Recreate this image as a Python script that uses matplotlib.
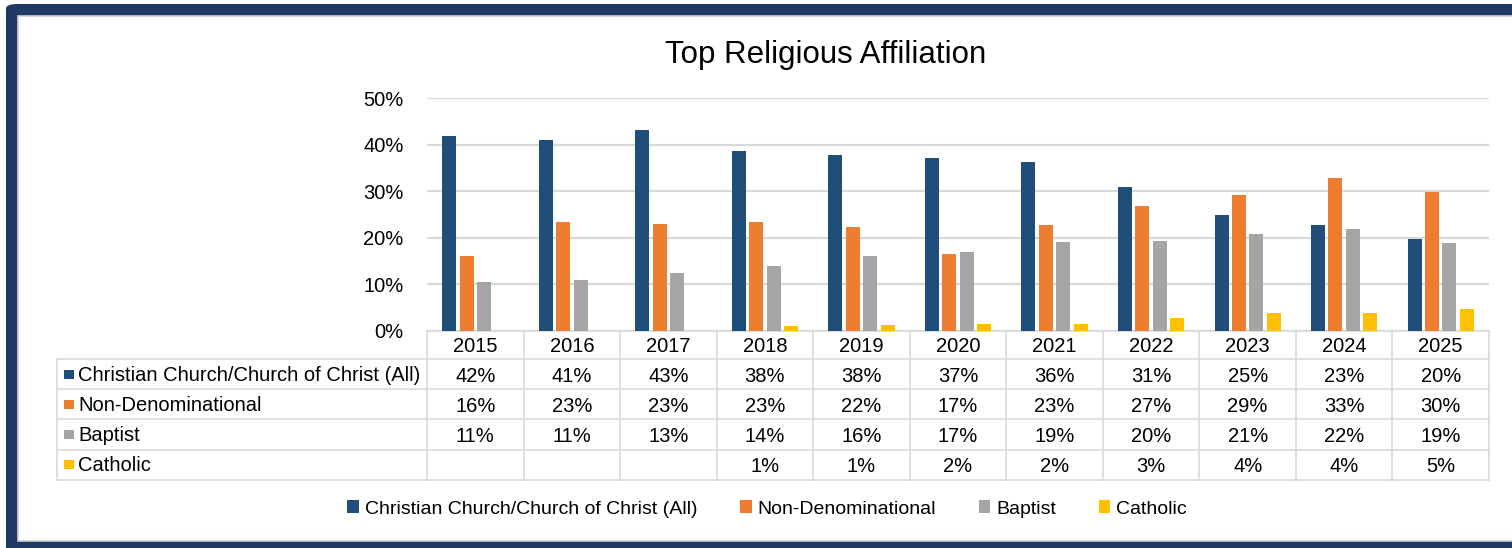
import numpy as np
import matplotlib
matplotlib.use("Agg")
import matplotlib.pyplot as plt
from matplotlib.patches import FancyBboxPatch, Rectangle
from matplotlib.transforms import blended_transform_factory

plt.rcParams['font.family'] = ['Liberation Sans', 'DejaVu Sans']

# data (percent)
years = ["2015", "2016", "2017", "2018", "2019", "2020", "2021", "2022", "2023", "2024", "2025"]
series = ["Christian Church/Church of Christ (All)", "Non-Denominational", "Baptist", "Catholic"]
christian = [41.9, 41.0, 43.2, 38.6, 37.7, 37.1, 36.2, 30.8, 24.9, 22.8, 19.8]
nondenom = [16.2, 23.4, 22.9, 23.4, 22.4, 16.6, 22.7, 26.8, 29.1, 32.8, 29.8]
baptist = [10.5, 10.9, 12.5, 13.9, 16.2, 16.9, 19.2, 19.4, 20.8, 21.9, 18.9]
catholic = [np.nan, np.nan, np.nan, 1.1, 1.2, 1.5, 1.5, 2.8, 3.8, 3.8, 4.7]
table_text = [
    ["42%", "41%", "43%", "38%", "38%", "37%", "36%", "31%", "25%", "23%", "20%"],
    ["16%", "23%", "23%", "23%", "22%", "17%", "23%", "27%", "29%", "33%", "30%"],
    ["11%", "11%", "13%", "14%", "16%", "17%", "19%", "20%", "21%", "22%", "19%"],
    ["", "", "", "1%", "1%", "2%", "2%", "3%", "4%", "4%", "5%"],
]
colors = ["#1f4e79", "#ed7d31", "#a5a5a5", "#ffc000"]

W, H = 1512, 548
fig = plt.figure(figsize=(W / 100, H / 100), dpi=100)


def fx(x):
    return x / W


def fy(y):
    return 1 - y / H


# navy frame
fig.patches.append(FancyBboxPatch((fx(6), fy(600)), fx(1600), fy(4) - fy(600),
                                  boxstyle="round,pad=0,rounding_size=0.008",
                                  transform=fig.transFigure, facecolor="#203864",
                                  edgecolor="none", zorder=-3))
fig.patches.append(Rectangle((fx(18), fy(541)), fx(1600), fy(16) - fy(541),
                             transform=fig.transFigure, facecolor="white",
                             edgecolor="#d0d0d0", linewidth=1.2, zorder=-2))

ax = fig.add_axes([fx(427), fy(331), fx(1489) - fx(427), fy(98) - fy(331)])
ax.set_facecolor("none")
ax.set_zorder(2)

x = np.arange(len(years))
bw = 0.145
pitch = 0.18
bars = []
for k, vals in enumerate([christian, nondenom, baptist, catholic]):
    b = ax.bar(x + (k - 1.5) * pitch, vals, width=bw, color=colors[k],
               label=series[k], zorder=3)
    bars.append(b)

ax.set_xlim(-0.5, len(years) - 0.5)
ax.set_ylim(0, 50)
ax.set_yticks([0, 10, 20, 30, 40, 50])
ax.set_yticklabels([f"{v}%" for v in [0, 10, 20, 30, 40, 50]], fontsize=14.5)
ax.tick_params(axis="y", length=0, pad=17)
ax.set_xticks([])
for s in ax.spines.values():
    s.set_visible(False)
ax.yaxis.grid(True, color="#d9d9d9", linewidth=1.6, zorder=0)
ax.set_axisbelow(True)

# data table under the plot
grid_c = "#d9d9d9"
lw = 1.2
tr = blended_transform_factory(ax.transData, fig.transFigure)
x0, x1 = -0.5, len(years) - 0.5
row_lines = [331, 359, 389, 419, 450, 480]
for i, yy in enumerate(row_lines):
    if i == 0:
        ax.plot([x0, x1], [fy(yy)] * 2, transform=tr, color=grid_c, lw=lw, clip_on=False)
    else:
        fig.add_artist(plt.Line2D([fx(57), fx(1489)], [fy(yy)] * 2, color=grid_c, lw=lw))
for k in range(len(years) + 1):
    ax.plot([x0 + k, x0 + k], [fy(331), fy(480)], transform=tr, color=grid_c, lw=lw, clip_on=False)
fig.add_artist(plt.Line2D([fx(57)] * 2, [fy(359), fy(480)], color=grid_c, lw=lw))

for i, yr in enumerate(years):
    ax.text(i, fy(352.5), yr, transform=tr, ha="center", va="baseline", fontsize=14.5)
row_y = [374, 404, 434, 464]
for r in range(4):
    fig.add_artist(Rectangle((fx(64), fy(row_y[r] + 4.5)), fx(9.5), fy(0) - fy(9),
                             transform=fig.transFigure, facecolor=colors[r], edgecolor="none"))
    fig.text(fx(78), fy(row_y[r] + 7), series[r], ha="left", va="baseline", fontsize=14.5)
    for i in range(len(years)):
        ax.text(i, fy(row_y[r] + 7.5), table_text[r][i], transform=tr, ha="center",
                va="baseline", fontsize=14.5)

fig.text(fx(826), fy(55), "Top Religious Affiliation", ha="center", va="center", fontsize=22.5)

fig.legend(handles=bars, labels=series, loc="center", bbox_to_anchor=(fx(767), fy(509)),
           ncol=4, frameon=False, fontsize=14, handlelength=0.6, handleheight=0.6,
           handletextpad=0.3, columnspacing=2.2)

fig.savefig("out.png", dpi=100)
